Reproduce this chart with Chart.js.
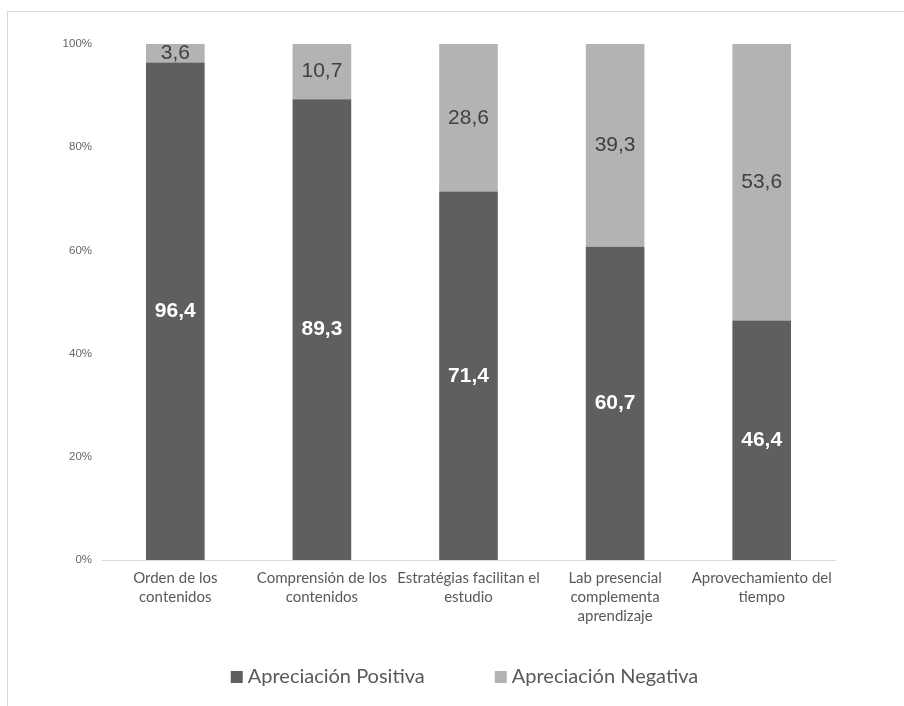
<!DOCTYPE html>
<html>
<head>
<meta charset="utf-8">
<script src="https://cdn.jsdelivr.net/npm/chart.js@4.4.1/dist/chart.umd.min.js"></script>
<style>
    body { margin: 0; background: #fff; }
    #frame {
        position: absolute; left: 7px; top: 11px; width: 897px; height: 695px;
        border-top: 1px solid #d9d9d9; border-left: 1px solid #d9d9d9;
    }
    #chart { position: absolute; left: 0; top: 0; }
</style>
</head>
<body>
<div id="frame"></div>
<canvas id="chart" width="904" height="706"></canvas>
<script>
const categories = [
    ['Orden de los', 'contenidos'],
    ['Comprensión de los', 'contenidos'],
    ['Estratégias facilitan el', 'estudio'],
    ['Lab presencial', 'complementa', 'aprendizaje'],
    ['Aprovechamiento del', 'tiempo']
];
const positiva = [96.4, 89.3, 71.4, 60.7, 46.4];
const negativa = [3.6, 10.7, 28.6, 39.3, 53.6];
const yTicks = [0, 20, 40, 60, 80, 100];

// value labels inside the bar segments //
const segmentLabels = {
    id: 'segmentLabels',
    afterDatasetsDraw(chart) {
        const ctx = chart.ctx;
        chart.data.datasets.forEach((ds, i) => {
            const meta = chart.getDatasetMeta(i);
            meta.data.forEach((bar, j) => {
                const y = (bar.y + bar.base) / 2;
                ctx.save();
                ctx.font = i === 0 ? 'bold 21px "Liberation Sans", Arial' : '21px "Liberation Sans", Arial';
                ctx.fillStyle = i === 0 ? '#ffffff' : '#404040';
                ctx.textAlign = 'center';
                ctx.textBaseline = 'middle';
                ctx.fillText(ds.data[j].toFixed(1).replace('.', ','), bar.x, y);
                ctx.restore();
            });
        });
    }
};

// legend under the chart, wide gap between the two items //
const bottomLegend = {
    id: 'bottomLegend',
    afterDraw(chart) {
        const ctx = chart.ctx;
        const box = 12, gap = 5, spacing = 70, y = 677;
        ctx.save();
        ctx.font = '20px Lato';
        ctx.textBaseline = 'middle';
        const items = chart.data.datasets.map(ds => ({
            text: ds.label, color: ds.backgroundColor, w: box + gap + ctx.measureText(ds.label).width
        }));
        const total = items.reduce((s, it) => s + it.w, 0) + spacing * (items.length - 1);
        let x = (chart.chartArea.left + chart.chartArea.right) / 2 - 4 - total / 2;
        items.forEach(it => {
            ctx.fillStyle = it.color;
            ctx.fillRect(x, y - box / 2, box, box);
            ctx.fillStyle = '#595959';
            ctx.fillText(it.text, x + box + gap, y);
            x += it.w + spacing;
        });
        ctx.restore();
    }
};

new Chart(document.querySelector('#chart').getContext('2d'), {
    type: 'bar',
    data: {
        labels: categories,
        datasets: [
            {
                label: 'Apreciación Positiva',
                data: positiva,
                backgroundColor: '#5f5f5f',
                categoryPercentage: 1,
                barPercentage: 0.4
            },
            {
                label: 'Apreciación Negativa',
                data: negativa,
                backgroundColor: '#b3b3b3',
                categoryPercentage: 1,
                barPercentage: 0.4
            }
        ]
    },
    options: {
        responsive: false,
        animation: false,
        layout: { padding: { top: 44, left: 0, right: 69, bottom: 0 } },
        scales: {
            x: {
                stacked: true,
                grid: { display: false, drawTicks: false },
                border: { display: true, color: '#d9d9d9' },
                ticks: {
                    autoSkip: false, maxRotation: 0, padding: 9,
                    color: '#595959',
                    font: { family: 'Lato', size: 15, lineHeight: 1.27 }
                },
                afterFit: (scale) => { scale.height = 146; }
            },
            y: {
                stacked: true,
                min: 0, max: 100,
                afterBuildTicks: (scale) => { scale.ticks = yTicks.map(v => ({ value: v })); },
                grid: { display: false, drawTicks: false },
                border: { display: false },
                ticks: {
                    padding: 10,
                    color: '#666666',
                    font: { family: '"Liberation Sans", Arial', size: 11.5 },
                    callback: (v) => v + '%'
                },
                afterFit: (scale) => { scale.width = 102; }
            }
        },
        plugins: {
            legend: { display: false },
            tooltip: { enabled: false }
        }
    },
    plugins: [segmentLabels, bottomLegend]
})
</script>
</body>
</html>
